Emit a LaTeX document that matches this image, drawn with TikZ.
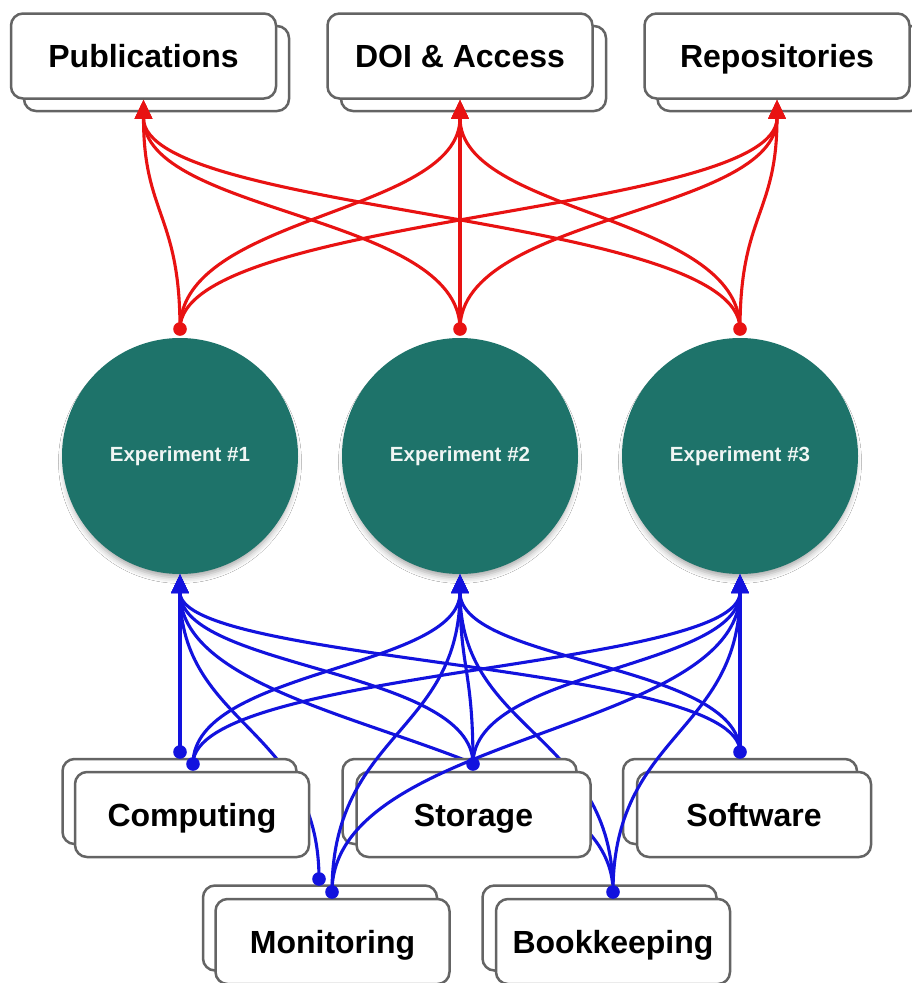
\documentclass[tikz,border=0pt]{standalone}
\usepackage{fontspec}
\setmainfont{Liberation Sans}
\usetikzlibrary{arrows.meta,calc,shadows.blur}
\definecolor{redc}{RGB}{232,18,18}
\definecolor{bluec}{RGB}{18,18,222}
\definecolor{expteal}{RGB}{30,115,106}
\definecolor{boxgray}{RGB}{100,100,100}
\definecolor{exptext}{RGB}{240,246,244}
\newcommand\vconn[3]{%
  \coordinate (vmid) at ($(#2)!0.5!(#3)$);
  \draw[#1] (#2) .. controls (#2 |- vmid) and (#3 |- vmid) .. (#3);}
\tikzset{
  box/.style={draw=boxgray, line width=2.5pt, fill=white, rounded corners=12pt,
    minimum width=265pt, minimum height=85pt, inner sep=0pt,
    text height=23pt, text depth=0pt,
    font=\fontsize{32}{36}\selectfont\bfseries},
  sbox/.style={box, minimum width=234pt},
  expnode/.style={circle, fill=expteal, minimum size=236pt, inner sep=0pt,
    text=exptext, font=\fontsize{20.5}{24}\selectfont\bfseries,
    blur shadow={shadow xshift=0pt, shadow yshift=-6pt, shadow scale=0.98, shadow blur radius=6pt, shadow opacity=35}},
  redln/.style={draw=redc, line width=3.1pt, -{Triangle[length=19pt,width=17pt]}},
  blueln/.style={draw=bluec, line width=3.1pt, -{Triangle[length=19pt,width=17pt]}},
}
\begin{document}
\begin{tikzpicture}[x=1pt,y=-1pt]
\fill[white] (0,0) rectangle (912,983);
\useasboundingbox (0,0) rectangle (912,983);

% top boxes
\node[box] (pubb) at (156.5,68.5) {};
\node[box] (pub) at (143.5,56) {Publications};
\node[box] (doib) at (473.5,68.5) {};
\node[box] (doi) at (460,56) {DOI \& Access};
\node[box] (repb) at (790,68.5) {};
\node[box] (rep) at (777,56) {Repositories};

% experiments
\node[expnode] (e1) at (180,456) {Experiment \#1};
\node[expnode] (e2) at (460,456) {Experiment \#2};
\node[expnode] (e3) at (740,456) {Experiment \#3};

% red dots
\coordinate (rd1) at (180,329);
\coordinate (rd2) at (460,329);
\coordinate (rd3) at (740,329);

\vconn{redln}{rd1}{pub.south}
\vconn{redln}{rd1}{doi.south}
\vconn{redln}{rd1}{rep.south}
\vconn{redln}{rd2}{pub.south}
\vconn{redln}{rd2}{doi.south}
\vconn{redln}{rd2}{rep.south}
\vconn{redln}{rd3}{pub.south}
\vconn{redln}{rd3}{doi.south}
\vconn{redln}{rd3}{rep.south}
\foreach \d in {rd1,rd2,rd3} \fill[redc] (\d) circle (6.8pt);

% blue dot coordinates
\coordinate (cd1) at (180,752);
\coordinate (cd2) at (193,764);
\coordinate (sd) at (473,764);
\coordinate (wd) at (740,752);
\coordinate (md1) at (319,879);
\coordinate (md2) at (332,892);
\coordinate (bd) at (613,892);

% connectors hidden behind boxes
\vconn{blueln}{md1}{e1.south}
\vconn{blueln}{bd}{e1.south}
\vconn{blueln}{bd}{e2.south}

% bottom boxes
\node[sbox] (compb) at (179.5,801.5) {};
\node[sbox] (comp) at (192,814.5) {Computing};
\node[sbox] (storb) at (459.5,801.5) {};
\node[sbox] (stor) at (473.5,814.5) {Storage};
\node[sbox] (softb) at (740,801.5) {};
\node[sbox] (soft) at (754,814.5) {Software};
\node[sbox] (monb) at (320,928) {};
\node[sbox] (mon) at (332.5,941.5) {Monitoring};
\node[sbox] (bookb) at (599.5,928) {};
\node[sbox] (book) at (613,941.5) {Bookkeeping};

% connectors drawn over boxes
\vconn{blueln}{cd1}{e1.south}
\vconn{blueln}{cd2}{e2.south}
\vconn{blueln}{cd2}{e3.south}
\vconn{blueln}{sd}{e1.south}
\vconn{blueln}{sd}{e2.south}
\vconn{blueln}{sd}{e3.south}
\vconn{blueln}{wd}{e1.south}
\vconn{blueln}{wd}{e2.south}
\vconn{blueln}{wd}{e3.south}
\vconn{blueln}{md2}{e2.south}
\vconn{blueln}{md2}{e3.south}
\vconn{blueln}{bd}{e3.south}
\foreach \d in {cd1,cd2,sd,wd,md1,md2,bd} \fill[bluec] (\d) circle (6.8pt);
\end{tikzpicture}
\end{document}
